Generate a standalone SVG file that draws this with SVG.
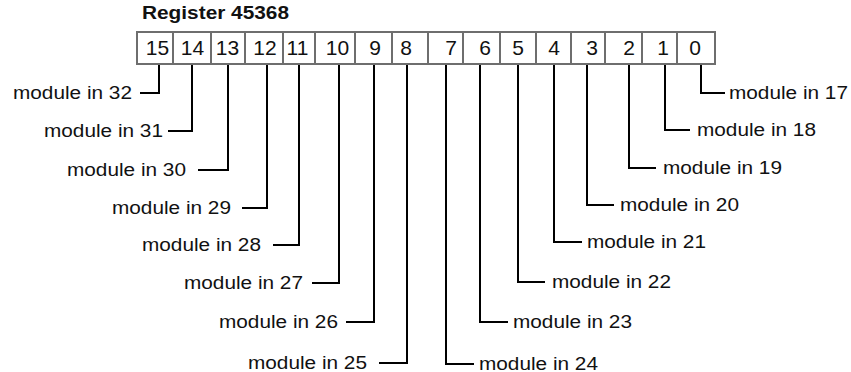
<svg xmlns="http://www.w3.org/2000/svg" width="851" height="372" viewBox="0 0 851 372">
<style>
.bx{fill:#fff;stroke:#6e6e6e;stroke-width:2}
.num{font-family:"Liberation Sans",Arial,sans-serif;font-size:21px;fill:#111;text-anchor:middle}
.lbl{font-family:"Liberation Sans",Arial,sans-serif;font-size:17.5px;fill:#111}
.ttl{font-family:"Liberation Sans",Arial,sans-serif;font-size:17.5px;font-weight:bold;fill:#111}
.cn{fill:none;stroke:#000;stroke-width:2}
</style>
<rect width="851" height="372" fill="#fff"/>
<text class="ttl" x="142" y="19" textLength="147" lengthAdjust="spacingAndGlyphs">Register 45368</text>
<g id="register">
<g id="bit15"><rect class="bx" x="137" y="32" width="36" height="32"/><text class="num" x="157.5" y="55">15</text></g>
<g id="bit14"><rect class="bx" x="173" y="32" width="38" height="32"/><text class="num" x="192.5" y="55">14</text></g>
<g id="bit13"><rect class="bx" x="211" y="32" width="34" height="32"/><text class="num" x="227.5" y="55">13</text></g>
<g id="bit12"><rect class="bx" x="245" y="32" width="38" height="32"/><text class="num" x="265" y="55">12</text></g>
<g id="bit11"><rect class="bx" x="283" y="32" width="32" height="32"/><text class="num" x="297.5" y="55">11</text></g>
<g id="bit10"><rect class="bx" x="315" y="32" width="40" height="32"/><text class="num" x="337.5" y="55">10</text></g>
<g id="bit9"><rect class="bx" x="355" y="32" width="37" height="32"/><text class="num" x="375" y="55">9</text></g>
<g id="bit8"><rect class="bx" x="392" y="32" width="36" height="32"/><text class="num" x="406" y="55">8</text></g>
<g id="bit7"><rect class="bx" x="428" y="32" width="35" height="32"/><text class="num" x="451" y="55">7</text></g>
<g id="bit6"><rect class="bx" x="463" y="32" width="37" height="32"/><text class="num" x="485" y="55">6</text></g>
<g id="bit5"><rect class="bx" x="500" y="32" width="36" height="32"/><text class="num" x="518" y="55">5</text></g>
<g id="bit4"><rect class="bx" x="536" y="32" width="35" height="32"/><text class="num" x="554" y="55">4</text></g>
<g id="bit3"><rect class="bx" x="571" y="32" width="34" height="32"/><text class="num" x="592" y="55">3</text></g>
<g id="bit2"><rect class="bx" x="605" y="32" width="37" height="32"/><text class="num" x="629" y="55">2</text></g>
<g id="bit1"><rect class="bx" x="642" y="32" width="35" height="32"/><text class="num" x="663" y="55">1</text></g>
<g id="bit0"><rect class="bx" x="677" y="32" width="38" height="32"/><text class="num" x="695" y="55">0</text></g>
</g>
<g id="connectors">
<polyline class="cn" points="159,65 159,93 140,93"/>
<polyline class="cn" points="192,65 192,131 168,131"/>
<polyline class="cn" points="228,65 228,170 198,170"/>
<polyline class="cn" points="267,65 267,208 242,208"/>
<polyline class="cn" points="299,65 299,245 273,245"/>
<polyline class="cn" points="339,65 339,283 312,283"/>
<polyline class="cn" points="374,65 374,322 346,322"/>
<polyline class="cn" points="407,65 407,363 379,363"/>
<polyline class="cn" points="446,65 446,364 474,364"/>
<polyline class="cn" points="480,65 480,322 508,322"/>
<polyline class="cn" points="518,65 518,282 545,282"/>
<polyline class="cn" points="554,65 554,242 582,242"/>
<polyline class="cn" points="587,65 587,205 614,205"/>
<polyline class="cn" points="629,65 629,168 656,168"/>
<polyline class="cn" points="665,65 665,130 690,130"/>
<polyline class="cn" points="701,65 701,93 725,93"/>
</g>
<g id="label32"><text class="lbl" x="13" y="98.5" textLength="119" lengthAdjust="spacingAndGlyphs">module in 32</text></g>
<g id="label31"><text class="lbl" x="44" y="136.5" textLength="119" lengthAdjust="spacingAndGlyphs">module in 31</text></g>
<g id="label30"><text class="lbl" x="67" y="175.5" textLength="119" lengthAdjust="spacingAndGlyphs">module in 30</text></g>
<g id="label29"><text class="lbl" x="112" y="213.5" textLength="119" lengthAdjust="spacingAndGlyphs">module in 29</text></g>
<g id="label28"><text class="lbl" x="142" y="250.5" textLength="119" lengthAdjust="spacingAndGlyphs">module in 28</text></g>
<g id="label27"><text class="lbl" x="184" y="288.5" textLength="119" lengthAdjust="spacingAndGlyphs">module in 27</text></g>
<g id="label26"><text class="lbl" x="219" y="327.5" textLength="119" lengthAdjust="spacingAndGlyphs">module in 26</text></g>
<g id="label25"><text class="lbl" x="248" y="368.5" textLength="119" lengthAdjust="spacingAndGlyphs">module in 25</text></g>
<g id="label24"><text class="lbl" x="479" y="369.5" textLength="119" lengthAdjust="spacingAndGlyphs">module in 24</text></g>
<g id="label23"><text class="lbl" x="513" y="327.5" textLength="119" lengthAdjust="spacingAndGlyphs">module in 23</text></g>
<g id="label22"><text class="lbl" x="552" y="287.5" textLength="119" lengthAdjust="spacingAndGlyphs">module in 22</text></g>
<g id="label21"><text class="lbl" x="587" y="247.5" textLength="119" lengthAdjust="spacingAndGlyphs">module in 21</text></g>
<g id="label20"><text class="lbl" x="620" y="210.5" textLength="119" lengthAdjust="spacingAndGlyphs">module in 20</text></g>
<g id="label19"><text class="lbl" x="663" y="173.5" textLength="119" lengthAdjust="spacingAndGlyphs">module in 19</text></g>
<g id="label18"><text class="lbl" x="697" y="135.5" textLength="119" lengthAdjust="spacingAndGlyphs">module in 18</text></g>
<g id="label17"><text class="lbl" x="729" y="98.5" textLength="119" lengthAdjust="spacingAndGlyphs">module in 17</text></g>
</svg>
